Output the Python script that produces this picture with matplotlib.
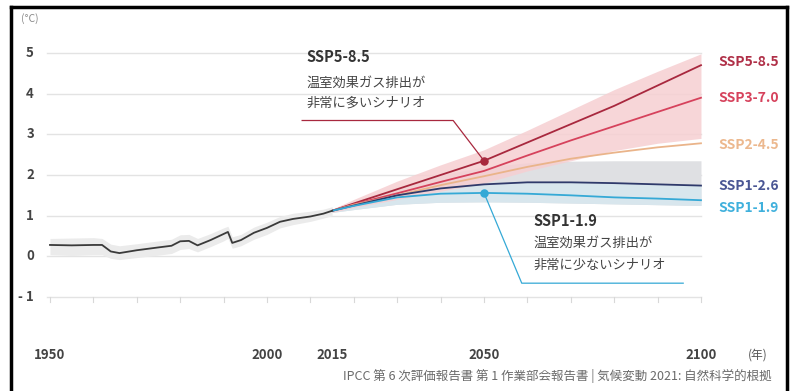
import matplotlib
matplotlib.use("Agg")
import matplotlib.pyplot as plt
from matplotlib.lines import Line2D

plt.rcParams['font.family'] = ['Noto Sans CJK JP', 'DejaVu Sans']

# ---- observed record (1950-2015) ----
hist_years = [1950, 1955, 1960, 1962, 1964, 1966, 1970, 1975, 1978, 1980, 1982,
              1984, 1987, 1990, 1991, 1992, 1994, 1997, 2000, 2003, 2006, 2010,
              2013, 2015]
hist_vals = [0.28, 0.27, 0.28, 0.28, 0.12, 0.08, 0.15, 0.22, 0.26, 0.37, 0.38,
             0.27, 0.40, 0.55, 0.60, 0.33, 0.40, 0.58, 0.70, 0.85, 0.92, 0.98,
             1.05, 1.12]
hist_low = [0.04, 0.02, 0.04, 0.04, -0.05, -0.08, -0.03, 0.03, 0.07, 0.17, 0.19,
            0.11, 0.24, 0.38, 0.44, 0.20, 0.26, 0.42, 0.54, 0.70, 0.78, 0.86,
            0.94, 1.00]
hist_high = [0.44, 0.45, 0.46, 0.44, 0.30, 0.26, 0.31, 0.38, 0.42, 0.53, 0.54,
             0.44, 0.56, 0.70, 0.74, 0.48, 0.54, 0.72, 0.84, 0.98, 1.06, 1.11,
             1.16, 1.22]

# ---- scenario projections (2015-2100) ----
proj_years = [2015, 2020, 2030, 2040, 2050, 2060, 2070, 2080, 2090, 2100]
ssp585 = [1.12, 1.30, 1.65, 2.00, 2.35, 2.80, 3.25, 3.70, 4.20, 4.70]
ssp370 = [1.12, 1.28, 1.55, 1.83, 2.10, 2.48, 2.85, 3.20, 3.55, 3.90]
ssp245 = [1.12, 1.27, 1.50, 1.75, 1.97, 2.20, 2.40, 2.55, 2.68, 2.78]
ssp126 = [1.12, 1.25, 1.50, 1.67, 1.77, 1.82, 1.82, 1.80, 1.77, 1.74]
ssp119 = [1.12, 1.24, 1.45, 1.54, 1.56, 1.54, 1.50, 1.45, 1.42, 1.38]

high_band_upper = [1.16, 1.40, 1.85, 2.25, 2.62, 3.10, 3.60, 4.10, 4.55, 4.98]
high_band_lower = [1.08, 1.20, 1.40, 1.60, 1.80, 2.10, 2.35, 2.60, 2.78, 2.90]
low_band_upper = [1.16, 1.35, 1.70, 2.00, 2.20, 2.30, 2.34, 2.35, 2.35, 2.35]
low_band_lower = [1.08, 1.15, 1.28, 1.33, 1.34, 1.33, 1.31, 1.29, 1.27, 1.25]

scenario_names = ['SSP5-8.5', 'SSP3-7.0', 'SSP2-4.5', 'SSP1-2.6', 'SSP1-1.9']
scenario_series = [ssp585, ssp370, ssp245, ssp126, ssp119]
scenario_colors = ['#a8283e', '#d6425c', '#eab48a', '#2f3a6b', '#35a9d6']
label_colors = ['#b03048', '#d6425c', '#ecb88e', '#4a5694', '#3fb0dc']

y_ticks = [5, 4, 3, 2, 1, 0, -1]
y_tick_labels = ['5', '4', '3', '2', '1', '0', '- 1']
x_ticks = [1950, 2000, 2015, 2050, 2100]
x_tick_labels = ['1950', '2000', '2015', '2050', '2100']

W, H = 791, 391
fig = plt.figure(figsize=(W / 100, H / 100), dpi=100)
ax = fig.add_axes([0, 0, 1, 1])
# data limits chosen so 1950..2100 spans the plot width and -1..5 the height
ax.set_xlim(1938.48, 2120.74)
ax.set_ylim(-3.311, 6.303)
ax.axis('off')

grid_color = '#e3e3e3'
for yv in y_ticks:
    ax.plot([1949.3, 2100], [yv, yv], color=grid_color, lw=1.0, zorder=1)
for xv in range(1950, 2101, 10):
    ax.plot([xv, xv], [-1.0, -1.12], color='#d8d8d8', lw=0.8, zorder=1)

# observed record
ax.fill_between(hist_years, hist_low, hist_high, color='#ebebeb', lw=0, zorder=2)
ax.plot(hist_years, hist_vals, color='#3a3a3a', lw=1.3, zorder=6)

# projection ranges
ax.fill_between(proj_years, low_band_lower, low_band_upper, color='#dfe0e3', lw=0, zorder=2)
ax.fill_between(proj_years, low_band_lower, ssp126, color='#d8e6ed', lw=0, zorder=2.5)
ax.fill_between(proj_years, high_band_lower, high_band_upper, color='#f6cfd2',
                alpha=0.85, lw=0, zorder=3)

for vals, col in zip(scenario_series, scenario_colors):
    ax.plot(proj_years, vals, color=col, lw=1.3, zorder=5)

# right-hand scenario labels
label_y = [4.78, 3.90, 2.75, 1.74, 1.20]
for name, ly, col in zip(scenario_names, label_y, label_colors):
    ax.text(2104, ly, name, color=col, fontsize=10, fontweight='bold',
            va='center', ha='left')

# high-emission callout
ax.plot([2008.1, 2042.9, 2050], [3.34, 3.34, ssp585[4]],
        color='#a8283e', lw=0.9, zorder=4)
ax.scatter([2050], [ssp585[4]], s=26, color='#a8283e', zorder=7)
ax.text(2009.2, 4.89, 'SSP5-8.5', fontsize=10.5, fontweight='bold', color='#333333',
        va='center', ha='left')
ax.text(2009.2, 4.25, '温室効果ガス排出が', fontsize=9.5, color='#444444',
        va='center', ha='left')
ax.text(2009.2, 3.77, '非常に多いシナリオ', fontsize=9.5, color='#444444',
        va='center', ha='left')

# low-emission callout
ax.plot([2050, 2058.7, 2095.9], [ssp119[4], -0.66, -0.66],
        color='#35a9d6', lw=0.9, zorder=4)
ax.scatter([2050], [ssp119[4]], s=26, color='#35a9d6', zorder=7)
ax.text(2061.3, 0.86, 'SSP1-1.9', fontsize=10.5, fontweight='bold', color='#333333',
        va='center', ha='left')
ax.text(2061.3, 0.32, '温室効果ガス排出が', fontsize=9.5, color='#444444',
        va='center', ha='left')
ax.text(2061.3, -0.22, '非常に少ないシナリオ', fontsize=9.5, color='#444444',
        va='center', ha='left')

# axis labels
for yv, lab in zip(y_ticks, y_tick_labels):
    ax.text(1946.3, yv, lab, fontsize=9.5, fontweight='bold', color='#444444',
            va='center', ha='right')
for xv, lab in zip(x_ticks, x_tick_labels):
    ax.text(xv, -2.43, lab, fontsize=9.5, fontweight='bold',
            color='#444444', va='center', ha='center')
ax.text(2113, -2.43, '(年)', fontsize=8.5, color='#555555', va='center', ha='center')
ax.text(1945.4, 5.85, '(°C)', fontsize=7.5, color='#888888', va='center', ha='center')

fig.text(772 / W, 1 - 376 / H,
         'IPCC 第 6 次評価報告書 第 1 作業部会報告書 | 気候変動 2021: 自然科学的根拠',
         fontsize=9, color='#6a6a6a', ha='right', va='center')

# frame
frame_kw = dict(color='black', lw=2.5, transform=fig.transFigure)
fig.add_artist(Line2D([11 / W, 11 / W], [0, 1 - 7 / H], **frame_kw))
fig.add_artist(Line2D([11 / W, 787 / W], [1 - 7 / H, 1 - 7 / H], **frame_kw))
fig.add_artist(Line2D([787 / W, 787 / W], [0, 1 - 7 / H], **frame_kw))

fig.savefig('out.png', dpi=100, facecolor='white')
